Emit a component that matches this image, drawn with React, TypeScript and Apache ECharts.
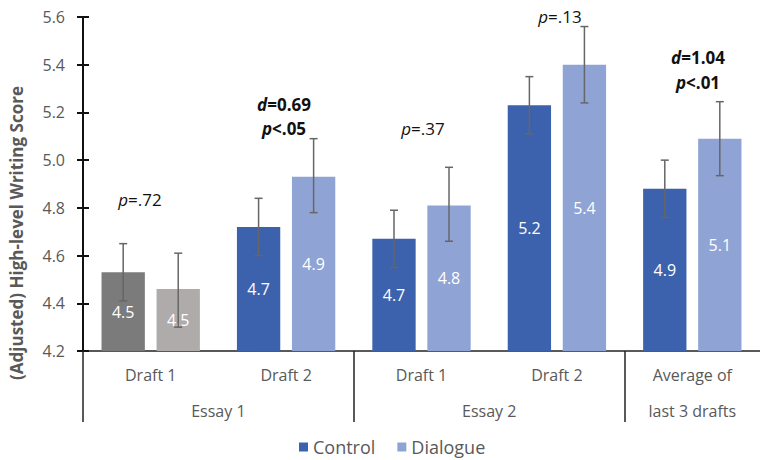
import React, { useEffect, useRef } from "react";
import * as echarts from "echarts";

const categories = ["Draft 1", "Draft 2", "Draft 1", "Draft 2", "Average of\nlast 3 drafts"];
const groupLabels = ["Essay 1", "Essay 2"];
const groupCenters = [1, 3];
const groupDividers = [0, 2, 4];
const seriesNames = ["Control", "Dialogue"];
const controlValues = [4.53, 4.72, 4.67, 5.23, 4.88];
const dialogueValues = [4.46, 4.93, 4.81, 5.4, 5.09];
const controlLow = [4.41, 4.6, 4.55, 5.11, 4.76];
const controlHigh = [4.65, 4.84, 4.79, 5.35, 5.0];
const dialogueLow = [4.3, 4.78, 4.66, 5.24, 4.935];
const dialogueHigh = [4.61, 5.09, 4.97, 5.56, 5.245];
const yTicks = [4.2, 4.4, 4.6, 4.8, 5.0, 5.2, 5.4, 5.6];

const FONT = "'Open Sans', 'Noto Sans', sans-serif";
const GRAY = "#595959";
const BLUE = "#3d62ad";
const LIGHT_BLUE = "#8fa4d4";
const DARK_GRAY = "#7b7b7b";
const LIGHT_GRAY = "#afabab";

const BAR_W = 0.32;
const BAR_GAP = 0.27;

export default function App() {
  const ref = useRef<HTMLDivElement>(null);
  useEffect(() => {
    if (!ref.current) return;
    const chart = echarts.init(ref.current, null, { renderer: "svg" });

    const errorSeries = (low: number[], high: number[], side: number) => ({
      type: "custom",
      xAxisIndex: 0,
      yAxisIndex: 0,
      z: 5,
      silent: true,
      encode: { x: 0, y: [1, 2] },
      data: low.map((l, i) => [i, l, high[i]]),
      renderItem: (params: any, api: any) => {
        const cat = api.value(0);
        const lo = api.value(1);
        const hi = api.value(2);
        const band = api.size([1, 0])[0];
        const off = side * band * BAR_W * (1 + BAR_GAP) / 2;
        const pHi = api.coord([cat, hi]);
        const pLo = api.coord([cat, lo]);
        const x = pHi[0] + off;
        const cap = 4;
        const style = { stroke: "#666666", lineWidth: 1.5 };
        return {
          type: "group",
          children: [
            { type: "line", shape: { x1: x, y1: pHi[1], x2: x, y2: pLo[1] }, style },
            { type: "line", shape: { x1: x - cap, y1: pHi[1], x2: x + cap, y2: pHi[1] }, style },
            { type: "line", shape: { x1: x - cap, y1: pLo[1], x2: x + cap, y2: pLo[1] }, style },
          ],
        };
      },
    });

    const rich = (bold: boolean) => ({
      i: { fontStyle: "italic", fontWeight: bold ? "bold" : "normal", fontSize: 17, fontFamily: FONT, fill: "#111" },
      n: { fontWeight: bold ? "bold" : "normal", fontSize: 17, fontFamily: FONT, fill: "#111" },
    });
    const annot = (x: number, y: number, text: string, bold: boolean) => ({
      type: "text",
      x,
      y,
      style: {
        text,
        rich: rich(bold),
        align: "center",
        verticalAlign: "middle",
        fontSize: 17,
        fontFamily: FONT,
      },
    });

    const labelOpt = {
      show: true,
      position: "inside",
      color: "#ffffff",
      fontSize: 16,
      fontFamily: FONT,
      formatter: (p: any) => Number(p.value).toFixed(1),
    };

    chart.setOption({
      animation: false,
      textStyle: { fontFamily: FONT },
      grid: { left: 83, right: -10, top: 17, bottom: 109, containLabel: false },
      legend: {
        data: seriesNames,
        left: 294,
        top: 432,
        icon: "rect",
        itemWidth: 9,
        itemHeight: 9,
        itemGap: 22,
        textStyle: { fontSize: 18, lineHeight: 20, color: GRAY, fontFamily: FONT },
      },
      xAxis: [
        {
          type: "category",
          data: categories,
          position: "bottom",
          axisLine: { show: true, onZero: false, lineStyle: { color: "#222", width: 1.5 } },
          axisTick: { show: false },
          axisLabel: {
            interval: 0,
            margin: 6,
            fontSize: 16,
            lineHeight: 36,
            color: GRAY,
            fontFamily: FONT,
          },
        },
        {
          type: "value",
          min: 0,
          max: 5,
          position: "bottom",
          axisLine: { show: false },
          splitLine: { show: false },
          axisTick: {
            show: true,
            length: 71,
            customValues: groupDividers,
            lineStyle: { color: "#222", width: 1.5 },
          },
          axisLabel: {
            show: true,
            customValues: groupCenters,
            margin: 50,
            fontSize: 16,
            lineHeight: 20,
            color: GRAY,
            fontFamily: FONT,
            formatter: (v: number) => {
              const idx = groupCenters.indexOf(v);
              return idx >= 0 ? groupLabels[idx] : "";
            },
          },
        },
      ],
      yAxis: [
        {
          type: "value",
          position: "left",
          min: yTicks[0],
          max: yTicks[yTicks.length - 1],
          interval: 0.2,
          splitLine: { show: false },
          axisLine: { show: true, onZero: false, lineStyle: { color: "#111", width: 2 } },
          axisTick: { show: true, length: 6, lineStyle: { color: "#111", width: 2 } },
          axisLabel: {
            margin: 18,
            fontSize: 16,
            color: GRAY,
            fontFamily: FONT,
            formatter: (v: number) => v.toFixed(1),
          },
        },
        {
          type: "value",
          position: "left",
          min: yTicks[0],
          max: yTicks[yTicks.length - 1],
          interval: 0.2,
          splitLine: { show: false },
          axisLine: { show: false, onZero: false },
          axisTick: { show: true, inside: true, length: 6, lineStyle: { color: "#111", width: 2 } },
          axisLabel: { show: false },
        },
      ],
      graphic: [
        {
          type: "text",
          x: 16,
          y: 233,
          rotation: Math.PI / 2,
          style: {
            text: "(Adjusted) High-level Writing Score",
            fontSize: 17,
            fontWeight: "bold",
            fontFamily: FONT,
            fill: GRAY,
            align: "center",
            verticalAlign: "middle",
          },
        },
        annot(140, 199, "{i|p}{n|=.72}", false),
        annot(284, 104, "{i|d}{n|=0.69}", true),
        annot(284, 128, "{i|p}{n|<.05}", true),
        annot(423, 128, "{i|p}{n|=.37}", false),
        annot(560, 16, "{i|p}{n|=.13}", false),
        annot(698, 57, "{i|d}{n|=1.04}", true),
        annot(698, 82, "{i|p}{n|<.01}", true),
      ],
      series: [
        {
          name: seriesNames[0],
          type: "bar",
          barWidth: `${BAR_W * 100}%`,
          barGap: `${BAR_GAP * 100}%`,
          itemStyle: { color: BLUE },
          label: labelOpt,
          data: controlValues.map((v, i) => (i === 0 ? { value: v, itemStyle: { color: DARK_GRAY } } : v)),
        },
        {
          name: seriesNames[1],
          type: "bar",
          barWidth: `${BAR_W * 100}%`,
          barGap: `${BAR_GAP * 100}%`,
          itemStyle: { color: LIGHT_BLUE },
          label: labelOpt,
          data: dialogueValues.map((v, i) => (i === 0 ? { value: v, itemStyle: { color: LIGHT_GRAY } } : v)),
        },
        errorSeries(controlLow, controlHigh, -1),
        errorSeries(dialogueLow, dialogueHigh, 1),
      ],
    });
    return () => chart.dispose();
  }, []);
  return <div ref={ref} style={{ width: 760, height: 460, position: "absolute", left: 0, top: 0 }} />;
}
